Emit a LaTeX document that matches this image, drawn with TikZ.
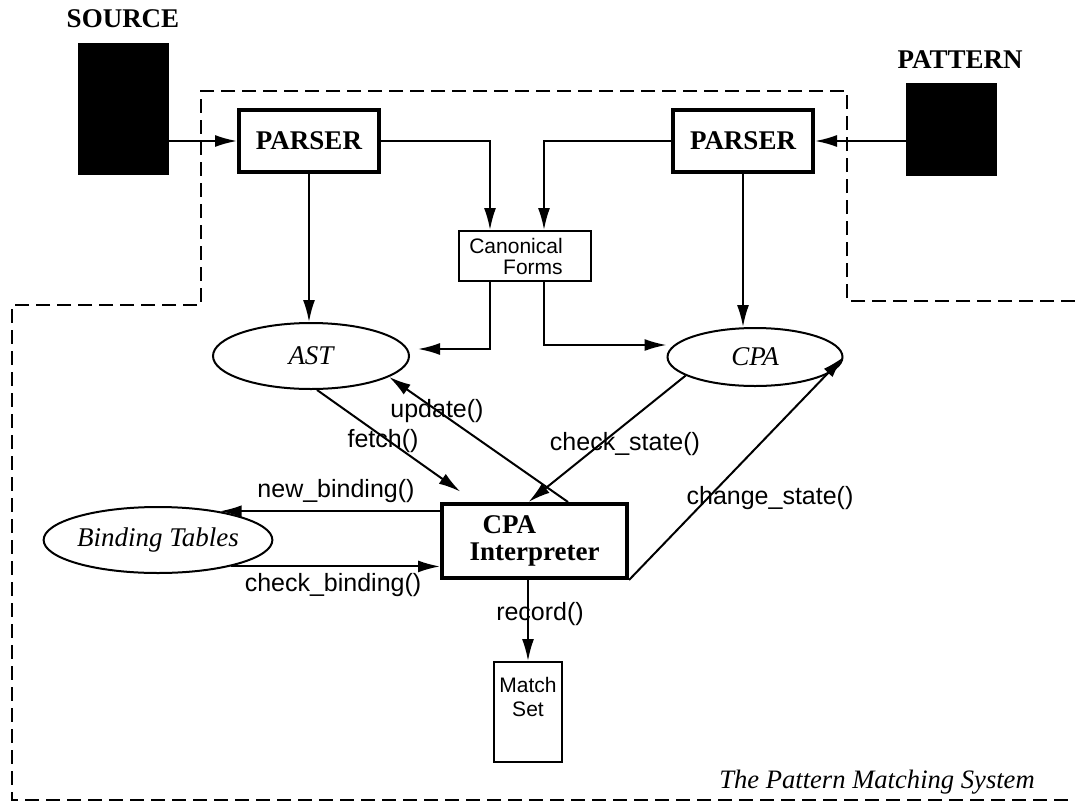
\documentclass[tikz,border=0pt]{standalone}
\usepackage{fontspec}
\setmainfont{Liberation Serif}
\setsansfont{Liberation Sans}
\usetikzlibrary{arrows.meta,shapes.geometric}
\tikzstyle{heading}=[font=\fontsize{13.5}{14}\selectfont\bfseries]
\tikzstyle{blackbox}=[draw, fill=black, minimum width=45pt]
\tikzstyle{parser}=[draw, line width=2pt, minimum width=70pt, minimum height=31pt, font=\rmfamily\fontsize{13.5}{13.5}\selectfont\bfseries]
\tikzstyle{store}=[draw, ellipse, line width=1pt, inner sep=0pt, font=\rmfamily\fontsize{13.5}{14}\selectfont\itshape]
\tikzstyle{smallbox}=[draw, line width=1pt, inner sep=0pt, font=\sffamily\fontsize{10.5}{10.5}\selectfont]
\tikzstyle{func}=[inner sep=0pt, font=\sffamily\fontsize{12.5}{13}\selectfont]
\tikzstyle{link}=[line width=1pt]

\begin{document}
\begin{tikzpicture}[x=0.5pt,y=-0.5pt,>={Latex[length=11pt,width=6pt]}]
    \useasboundingbox (0,0) rectangle (1075,803);
    % outline of the system
    \draw[link,dash pattern=on 7pt off 3.5pt] (1075,301) -- (847,301) -- (847,91) -- (201,91) -- (201,305) -- (12,305) -- (12,800) -- (1075,800);
    \node[heading] (srclbl) at (123,19) {SOURCE};
    \node[blackbox, minimum height=65.5pt] (src) at (123,108.5) {};
    \node[heading] (patlbl) at (960,60) {PATTERN};
    \node[blackbox, minimum height=46pt] (pat) at (951,129) {};
    \node[parser] (parL) at (309,141) {PARSER};
    \node[parser] (parR) at (743,141) {PARSER};
    \node[smallbox, minimum width=66pt, minimum height=25pt, align=right] (canon) at (525,256) {Canonical\hspace*{9pt}\\Forms\hspace*{9pt}};
    \node[store, minimum width=98pt, minimum height=33pt] (ast) at (311,356) {AST};
    \node[store, minimum width=87.5pt, minimum height=29pt] (cpa) at (755,357) {CPA};
    \node[store, minimum width=93pt, minimum height=33pt] (bind) at (158,540) {Binding Tables};
    \node[parser, minimum width=92.5pt, minimum height=37pt, align=left] (interp) at (534.5,541) {\hspace*{6.5pt}CPA\\Interpreter};
    \node[smallbox, minimum width=34pt, minimum height=50pt, align=center, font=\sffamily\fontsize{10.5}{12}\selectfont] (match) at (528,712) {Match\\Set\\\strut};
    % connectors
    \draw[link,->] (src.east |- parL.west) -- (parL.west);
    \draw[link,->] (pat.west |- parR.east) -- (parR.east);
    \draw[link,->] (parL.east) -| ([xshift=-17.5pt]canon.north);
    \draw[link,->] (parR.west) -| ([xshift=9.5pt]canon.north);
    \draw[link,->] (parL.south) -- (parL.south |- ast.north);
    \draw[link,->] (parR.south) -- (parR.south |- cpa.north);
    \draw[link,->,shorten >=4pt] ([xshift=-17.5pt]canon.south) |- ([yshift=3.5pt]ast.east);
    \draw[link,->] ([xshift=9.5pt]canon.south) |- ([yshift=6pt]cpa.west);
    \draw[link,->,shorten >=9pt] (ast.-80) -- ([xshift=17.5pt]interp.north west);
    \draw[link,->] ([xshift=16.75pt]interp.north) -- (ast.-15);
    \draw[link,->] (cpa.195) -- ([xshift=-3pt]interp.north);
    \draw[link,->] (interp.south east) -- (cpa.east);
    \draw[link,->] (interp.west |- bind.25) -- (bind.25);
    \draw[link,->] (bind.-20) -- (interp.west |- bind.-20);
    \draw[link,->] (match.north |- interp.south) -- (match.north);
    % labels
    \node[func] (fetchlbl) at (383,441) {fetch()};
    \node[func] (updatelbl) at (437,411) {update()};
    \node[func] (checkstatelbl) at (625,444) {check\_state()};
    \node[func] (newbindlbl) at (336,491) {new\_binding()};
    \node[func] (checkbindlbl) at (333,585) {check\_binding()};
    \node[func] (changestatelbl) at (770,498) {change\_state()};
    \node[func] (recordlbl) at (540,614) {record()};
    \node[font=\fontsize{13.3}{14}\selectfont\itshape] (syslbl) at (877,782) {The Pattern Matching System};
\end{tikzpicture}
\end{document}
